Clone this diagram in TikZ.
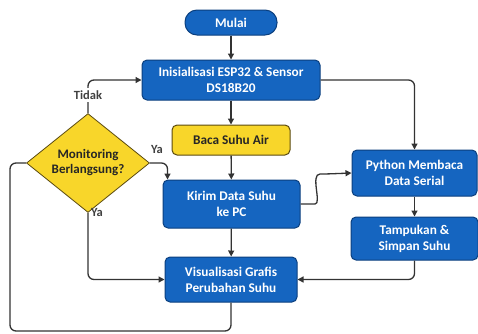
\documentclass[tikz,border=0pt]{standalone}
\usepackage{fontspec}
\setmainfont{Carlito}
\usetikzlibrary{shapes.geometric,arrows.meta}
\definecolor{bfill}{HTML}{1565C0}
\definecolor{bdraw}{HTML}{0B3F7E}
\definecolor{yfill}{HTML}{F8D62A}
\definecolor{ydraw}{HTML}{5A4A10}
\definecolor{lcol}{HTML}{333333}
\begin{document}
\begin{tikzpicture}[x=1pt,y=-1pt,
  bluebox/.style={draw=bdraw,line width=1pt,fill=bfill,rounded corners=5pt,text=white,font=\bfseries\fontsize{13.3}{16}\selectfont,align=center,inner sep=0pt},
  yelbox/.style={draw=ydraw,line width=1pt,fill=yfill,rounded corners=5pt,text=black!85,font=\bfseries\fontsize{13.3}{16}\selectfont,align=center,inner sep=0pt},
  decbox/.style={diamond,draw=ydraw,line width=0.8pt,fill=yfill,text=black!85,font=\bfseries\fontsize{13}{15}\selectfont,align=center,inner sep=0pt},
  conn/.style={draw=lcol,line width=1.3pt,rounded corners=6pt},
  arr/.style={conn,-{Triangle[length=6pt,width=6pt]}},
  lbl/.style={text=black!75,font=\bfseries\fontsize{12.5}{14}\selectfont,inner sep=1pt}]
\useasboundingbox (0,0) rectangle (478,333);
\node[bluebox,minimum width=92,minimum height=25,rounded corners=12pt] (mulai) at (231,22.5) {Mulai};
\node[bluebox,minimum width=178,minimum height=40] (init) at (231,80) {Inisialisasi ESP32 \& Sensor\\DS18B20};
\node[yelbox,minimum width=118,minimum height=30] (baca) at (231,140) {Baca Suhu Air};
\node[decbox,minimum width=123,minimum height=82] (mon) at (88,163) {Monitoring\\Berlangsung?};
\node[bluebox,minimum width=137,minimum height=48] (kirim) at (231.5,204) {Kirim Data Suhu\\ke PC};
\node[bluebox,minimum width=132,minimum height=45] (vis) at (231,279.5) {Visualisasi Grafis\\Perubahan Suhu};
\node[bluebox,minimum width=125,minimum height=46] (py) at (414.5,173) {Python Membaca\\Data Serial};
\node[bluebox,minimum width=127,minimum height=43] (tamp) at (414.5,238.5) {Tampukan \&\\Simpan Suhu};
\coordinate (lb) at (10,331);
\draw[arr] (mulai) -- (init);
\draw[arr] (init) -- (baca);
\draw[arr] (baca) -- (kirim);
\draw[arr] (kirim) -- (vis);
\draw[arr] (init.east) -| (py.north);
\draw[arr] (kirim.east) -- (309,204) .. controls (322,204) and (310,174) .. (326,174) -- (py.west);
\draw[arr] (py) -- (tamp);
\draw[arr] (tamp.south) |- (vis.east);
\draw[arr] (mon.north) |- (init.west);
\node[lbl,fill=white,inner ysep=3pt] (tidak) at (88,95) {Tidak};
\draw[arr] (mon.east) -| ([xshift=5pt]kirim.north west);
\node[lbl] (ya1) at (157,149) {Ya};
\draw[arr] (mon.south) |- (vis.west);
\node[lbl] (ya2) at (97,212) {Ya};
\draw[conn] (vis.south) |- (lb) |- (mon.west);
\end{tikzpicture}
\end{document}
